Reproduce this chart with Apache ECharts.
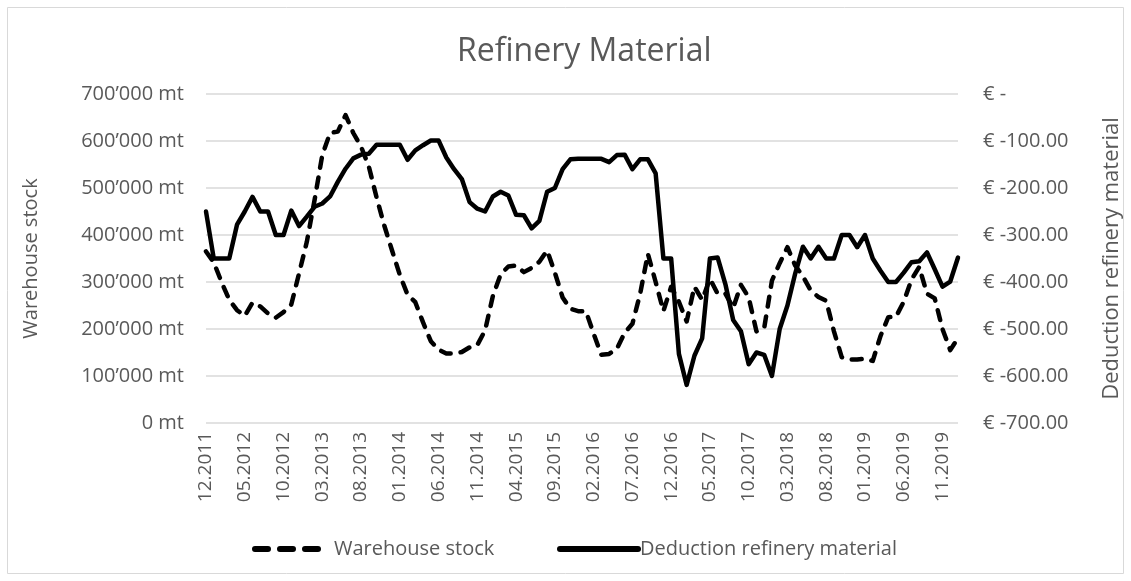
<!DOCTYPE html>
<html>
<head>
<meta charset="utf-8">
<script src="https://cdn.jsdelivr.net/npm/echarts@6/dist/echarts.min.js"></script>
<style>
  html, body { margin: 0; padding: 0; background: #fff; }
  #chart { width: 1131px; height: 581px; }
</style>
</head>
<body>
<div id="chart"></div>
<script>
// months, 12.2011 - 01.2020
const months = [
  '12.2011',
  '01.2012', '02.2012', '03.2012', '04.2012', '05.2012', '06.2012', '07.2012', '08.2012', '09.2012', '10.2012', '11.2012', '12.2012',
  '01.2013', '02.2013', '03.2013', '04.2013', '05.2013', '06.2013', '07.2013', '08.2013', '09.2013', '10.2013', '11.2013', '12.2013',
  '01.2014', '02.2014', '03.2014', '04.2014', '05.2014', '06.2014', '07.2014', '08.2014', '09.2014', '10.2014', '11.2014', '12.2014',
  '01.2015', '02.2015', '03.2015', '04.2015', '05.2015', '06.2015', '07.2015', '08.2015', '09.2015', '10.2015', '11.2015', '12.2015',
  '01.2016', '02.2016', '03.2016', '04.2016', '05.2016', '06.2016', '07.2016', '08.2016', '09.2016', '10.2016', '11.2016', '12.2016',
  '01.2017', '02.2017', '03.2017', '04.2017', '05.2017', '06.2017', '07.2017', '08.2017', '09.2017', '10.2017', '11.2017', '12.2017',
  '01.2018', '02.2018', '03.2018', '04.2018', '05.2018', '06.2018', '07.2018', '08.2018', '09.2018', '10.2018', '11.2018', '12.2018',
  '01.2019', '02.2019', '03.2019', '04.2019', '05.2019', '06.2019', '07.2019', '08.2019', '09.2019', '10.2019', '11.2019', '12.2019',
  '01.2020'
];

// warehouse stock in mt (left axis)
const warehouseStock = [
  365000,
  342000, 300000, 262000, 240000, 228000, 256000, 248000, 233000, 224000, 236000, 252000, 318000,
  385000, 474000, 570000, 617000, 620000, 655000, 617000, 588000, 546000, 480000, 420000, 367000,
  315000, 273000, 257000, 214000, 174000, 156000, 148000, 148000, 151000, 161000, 166000, 197000,
  270000, 316000, 333000, 335000, 321000, 330000, 343000, 367000, 320000, 267000, 243000, 238000,
  238000, 190000, 145000, 147000, 158000, 192000, 211000, 275000, 360000, 300000, 238000, 290000,
  258000, 216000, 290000, 262000, 307000, 275000, 275000, 245000, 294000, 267000, 195000, 202000,
  303000, 340000, 374000, 335000, 312000, 282000, 268000, 260000, 195000, 140000, 135000, 135000,
  137000, 132000, 185000, 225000, 226000, 258000, 305000, 332000, 275000, 265000, 200000, 155000,
  181000
];

// deduction refinery material in EUR (right axis)
const deduction = [
  -250,
  -350, -350, -350, -278, -250, -219, -250, -250, -300, -300, -248, -281,
  -261, -240, -233, -218, -187, -159, -137, -129, -127, -108, -108, -108,
  -108, -140, -120, -109, -99, -99, -135, -160, -181, -230, -244, -250,
  -218, -208, -216, -257, -258, -286, -270, -208, -200, -160, -139, -138,
  -138, -138, -138, -145, -130, -129, -160, -139, -139, -169, -350, -350,
  -553, -619, -557, -520, -350, -348, -405, -481, -505, -575, -550, -555,
  -600, -500, -450, -382, -325, -350, -325, -350, -350, -300, -300, -326,
  -300, -350, -376, -400, -400, -380, -358, -356, -337, -373, -410, -399,
  -348
];

const textColor = '#595959';
const font = 'Open Sans';

const chart = echarts.init(document.getElementById('chart'));
chart.setOption({
  animation: false,
  backgroundColor: '#fff',
  textStyle: { fontFamily: font, color: textColor },
  graphic: [{
    type: 'rect',
    shape: { x: 7.5, y: 7.5, width: 1116, height: 566 },
    style: { fill: 'none', stroke: '#d9d9d9', lineWidth: 1 },
    silent: true
  }],
  title: {
    text: 'Refinery Material',
    left: 452,
    top: 31,
    textStyle: { fontFamily: font, fontSize: 32, fontWeight: 'normal', color: textColor }
  },
  legend: [{
    left: 247,
    top: 534,
    itemWidth: 72,
    itemHeight: 14,
    itemStyle: { opacity: 0 },
    lineStyle: { width: 6, type: [13, 12], cap: 'round' },
    textStyle: { fontFamily: font, fontSize: 20, color: textColor, padding: [0, 0, 0, 2] },
    data: ['Warehouse stock']
  }, {
    left: 552,
    top: 534,
    itemWidth: 78,
    itemHeight: 14,
    itemStyle: { opacity: 0 },
    lineStyle: { width: 6, cap: 'round' },
    textStyle: { fontFamily: font, fontSize: 20, color: textColor, padding: [0, 0, 0, -3] },
    data: ['Deduction refinery material']
  }],
  grid: { left: 206, right: 168, top: 94, bottom: 158 },
  xAxis: {
    type: 'category',
    data: months,
    boundaryGap: false,
    axisLine: { show: false },
    axisTick: { show: false },
    axisLabel: {
      interval: 4,
      rotate: 90,
      margin: 9,
      fontFamily: font,
      fontSize: 19,
      color: textColor
    }
  },
  yAxis: [{
    type: 'value',
    min: 0,
    max: 700000,
    interval: 100000,
    name: 'Warehouse stock',
    nameLocation: 'middle',
    nameRotate: 90,
    nameGap: 165,
    nameTextStyle: { fontFamily: font, fontSize: 20, color: textColor },
    axisLine: { show: false },
    axisTick: { show: false },
    splitLine: { lineStyle: { color: '#d9d9d9', width: 1.5 } },
    axisLabel: {
      margin: 22,
      fontFamily: font,
      fontSize: 20,
      color: textColor,
      formatter: v => v === 0 ? '0 mt' : (v / 1000) + '\u2019000 mt'
    }
  }, {
    type: 'value',
    min: -700,
    max: 0,
    interval: 100,
    name: 'Deduction refinery material',
    nameLocation: 'middle',
    nameRotate: 90,
    nameGap: 143,
    nameTextStyle: { fontFamily: font, fontSize: 22, color: textColor },
    axisLine: { show: false },
    axisTick: { show: false },
    splitLine: { show: false },
    axisLabel: {
      margin: 25,
      fontFamily: font,
      fontSize: 20,
      color: textColor,
      formatter: v => v === 0 ? '\u20ac -' : '\u20ac ' + v.toFixed(2)
    }
  }],
  series: [{
    name: 'Warehouse stock',
    type: 'line',
    yAxisIndex: 0,
    data: warehouseStock,
    symbol: 'none',
    color: '#000',
    lineStyle: { color: '#000', width: 4.5, type: [10, 10], cap: 'round', join: 'round' }
  }, {
    name: 'Deduction refinery material',
    type: 'line',
    yAxisIndex: 1,
    data: deduction,
    symbol: 'none',
    color: '#000',
    lineStyle: { color: '#000', width: 4.5, cap: 'round', join: 'round' }
  }]
});
</script>
</body>
</html>
